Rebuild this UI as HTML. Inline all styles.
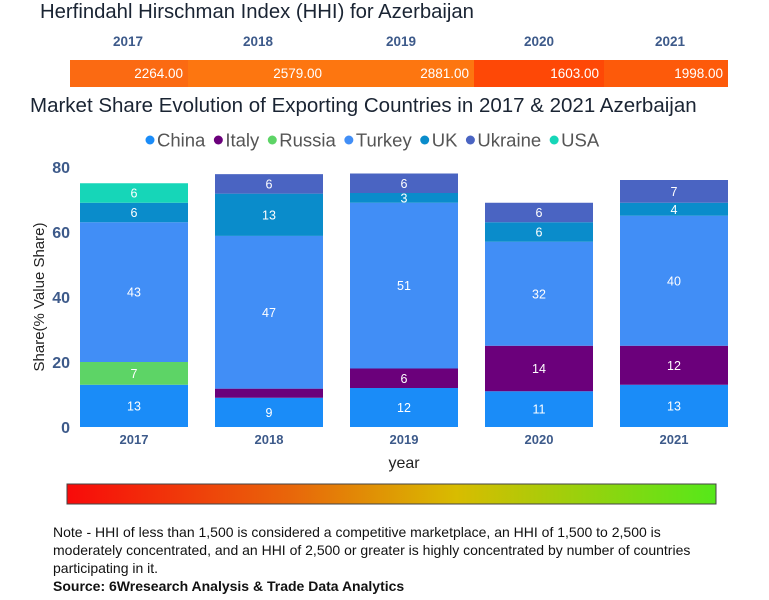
<!DOCTYPE html>
<html><head><meta charset="utf-8"><style>
body{margin:0;width:769px;height:600px;background:#fff;font-family:"Liberation Sans",sans-serif;position:relative;overflow:hidden}
.abs{position:absolute}
</style></head><body>
<div class="abs" style="left:40px;top:1px;font-size:20.3px;color:#1a2433">Herfindahl Hirschman Index (HHI) for Azerbaijan</div>
<svg class="abs" style="left:0;top:0" width="769" height="600">
<g id="hhi"></g>
<text x="30" y="112" font-size="20.5" fill="#1a2433">Market Share Evolution of Exporting Countries in 2017 &amp; 2021 Azerbaijan</text>
<g id="legend"></g>
<g id="axes"></g>
<g id="bars"></g>
<text transform="translate(44,297) rotate(-90)" text-anchor="middle" font-size="15" fill="#222">Share(% Value Share)</text>
<text x="404" y="468" text-anchor="middle" font-size="16" fill="#222">year</text>
<defs><linearGradient id="gr" x1="0" x2="1"><stop offset="0" stop-color="#f80a0a"/><stop offset="0.35" stop-color="#e8680a"/><stop offset="0.6" stop-color="#d8bc00"/><stop offset="1" stop-color="#55e81a"/></linearGradient></defs>
<rect x="67" y="484" width="649" height="20" fill="url(#gr)" stroke="#444" stroke-width="1"/>
</svg>
<div class="abs" style="left:53px;top:523px;width:665px;font-size:14px;line-height:18px;color:#111">Note - HHI of less than 1,500 is considered a competitive marketplace, an HHI of 1,500 to 2,500 is moderately concentrated, and an HHI of 2,500 or greater is highly concentrated by number of countries participating in it.<br><b>Source: 6Wresearch Analysis &amp; Trade Data Analytics</b></div>
<script>
const years=["2017","2018","2019","2020","2021"];
const hhiValues=[2264,2579,2881,1603,1998];
const countries=["China","Italy","Russia","Turkey","UK","Ukraine","USA"];
const china=[13,9,12,11,13];
const italy=[0,2.8,6,14,12];
const russia=[7,0,0,0,0];
const turkey=[43,47,51,32,40];
const uk=[6,13,3,6,4];
const ukraine=[0,6,6,6,7];
const usa=[6,0,0,0,0];
const yTicks=[0,20,40,60,80];
const series=[china,italy,russia,turkey,uk,ukraine,usa];
const colors=["#1a8cf8","#6b007b","#5dd466","#418ef6","#0a8ccb","#4a64c2","#16d6b8"];
const NS="http://www.w3.org/2000/svg";
function mk(t,a,p){const e=document.createElementNS(NS,t);for(const k in a)e.setAttribute(k,a[k]);p.appendChild(e);return e;}
const y0=427,ppu=3.25;
const yScale=v=>y0-v*ppu;
const xScale=i=>80+i*135;
const bw=108;
const hg=document.getElementById('hhi');
const segs=[70,188,327,474,604,728];
const hcol=v=>v>=2500?"#fd7610":v>=2000?"#fb6a12":v>=1800?"#fd5a0a":"#fe4806";
hhiValues.forEach((v,i)=>{
 const r=mk('rect',{x:segs[i],y:60,width:segs[i+1]-segs[i],height:27,fill:hcol(v)},hg);
 
 
 const t=mk('text',{x:segs[i+1]-5,y:78,'text-anchor':'end','font-size':13.5,fill:'#fff'},hg);t.textContent=v.toFixed(2);
 
 
 const c=[128,258,401,539,670][i];
 const yl=mk('text',{x:c,y:46,'text-anchor':'middle','font-size':13.5,'font-weight':'bold',fill:'#3d5a8a'},hg);yl.textContent=years[i];
 
 
});
const lg=document.getElementById('legend');
let lx=146;
countries.forEach((c,i)=>{
 const g=mk('g',{},lg);
 
 
 mk('circle',{cx:lx+4,cy:140,r:4.5,fill:colors[i]},g);
 const t=mk('text',{x:lx+11,y:146.5,'font-size':18.5,fill:'#555'},g);t.textContent=c;
 lx+=11+t.getComputedTextLength()+9;
});
const ax=document.getElementById('axes');
yTicks.forEach(v=>{const t=mk('text',{x:70,y:yScale(v)+6,'text-anchor':'end','font-size':16,'font-weight':'bold',fill:'#3d5a8a'},ax);t.textContent=v;
 
 });
years.forEach((y,i)=>{const t=mk('text',{x:xScale(i)+bw/2,y:444,'text-anchor':'middle','font-size':13,'font-weight':'bold',fill:'#3d5a8a'},ax);t.textContent=y;
 
 });
const bg=document.getElementById('bars');
years.forEach((y,i)=>{
 let cum=0;
 series.forEach((s,j)=>{
  const v=s[i];if(!v)return;
  const r=mk('rect',{x:xScale(i),y:yScale(cum+v),width:bw,height:v*ppu,fill:colors[j]},bg);
  
  
  if(v>=3){const t=mk('text',{x:xScale(i)+bw/2,y:yScale(cum+v/2)+4.5,'text-anchor':'middle','font-size':12.5,fill:'#fff'},bg);t.textContent=Math.round(v);
   
   }
  cum+=v;
 });
});
</script>
</body></html>
